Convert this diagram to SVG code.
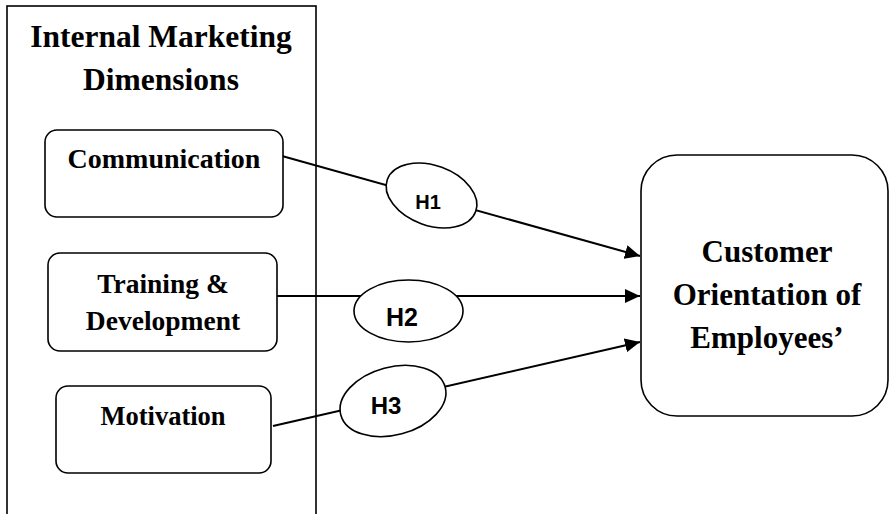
<svg xmlns="http://www.w3.org/2000/svg" width="889" height="514" viewBox="0 0 889 514">
<style>
.box{fill:#fff;stroke:#000;stroke-width:1.6}
.ser{font-family:"Liberation Serif","Times New Roman",serif;font-weight:bold;fill:#000;text-anchor:middle}
.hyp{fill:#fff;stroke:#000;stroke-width:1.6}
.hl{font-family:"Liberation Sans",Arial,sans-serif;font-weight:bold;fill:#000;text-anchor:middle}
.con{stroke:#000;stroke-width:2;fill:none}
</style>
<defs>
<marker id="arr" markerUnits="userSpaceOnUse" markerWidth="16" markerHeight="14" refX="15" refY="7" orient="auto">
<path d="M0,0 L15,7 L0,14 Z" fill="#000"/>
</marker>
</defs>
<rect width="889" height="514" fill="#fff"/>
<g id="internal-marketing">
<rect class="box" x="7" y="6" width="309" height="520"/>
<text class="ser" x="161" y="47" font-size="31.5">Internal Marketing</text>
<text class="ser" x="161" y="90" font-size="31.5">Dimensions</text>
</g>
<g id="connectors">
<line class="con" x1="282" y1="156" x2="640" y2="256" marker-end="url(#arr)"/>
<line class="con" x1="273" y1="296" x2="640" y2="296" marker-end="url(#arr)"/>
<line class="con" x1="273" y1="426" x2="640" y2="342" marker-end="url(#arr)"/>
</g>
<g id="communication">
<rect class="box" x="45" y="130" width="238" height="87" rx="12"/>
<text class="ser" x="164" y="168" font-size="28">Communication</text>
</g>
<g id="training">
<rect class="box" x="48" y="253" width="229" height="98" rx="12"/>
<text class="ser" x="163" y="293" font-size="27.5">Training &amp;</text>
<text class="ser" x="163" y="330" font-size="27.5">Development</text>
</g>
<g id="motivation">
<rect class="box" x="56" y="386" width="215" height="87" rx="12"/>
<text class="ser" x="163" y="425" font-size="26.5">Motivation</text>
</g>
<g id="h1">
<ellipse class="hyp" cx="431.5" cy="195.5" rx="47" ry="30" transform="rotate(20 431.5 195.5)"/>
<text class="hl" x="428" y="209" font-size="20">H1</text>
</g>
<g id="h2">
<ellipse class="hyp" cx="408.5" cy="311" rx="54.5" ry="31"/>
<text class="hl" x="402" y="326" font-size="25">H2</text>
</g>
<g id="h3">
<ellipse class="hyp" cx="393" cy="401" rx="54" ry="34" transform="rotate(-15 393 401)"/>
<text class="hl" x="386" y="414" font-size="24">H3</text>
</g>
<g id="customer-orientation">
<rect class="box" x="641" y="155" width="247" height="261" rx="36"/>
<text class="ser" x="767" y="262" font-size="31">Customer</text>
<text class="ser" x="767" y="305" font-size="31">Orientation of</text>
<text class="ser" x="767" y="348" font-size="31">Employees’</text>
</g>
</svg>
